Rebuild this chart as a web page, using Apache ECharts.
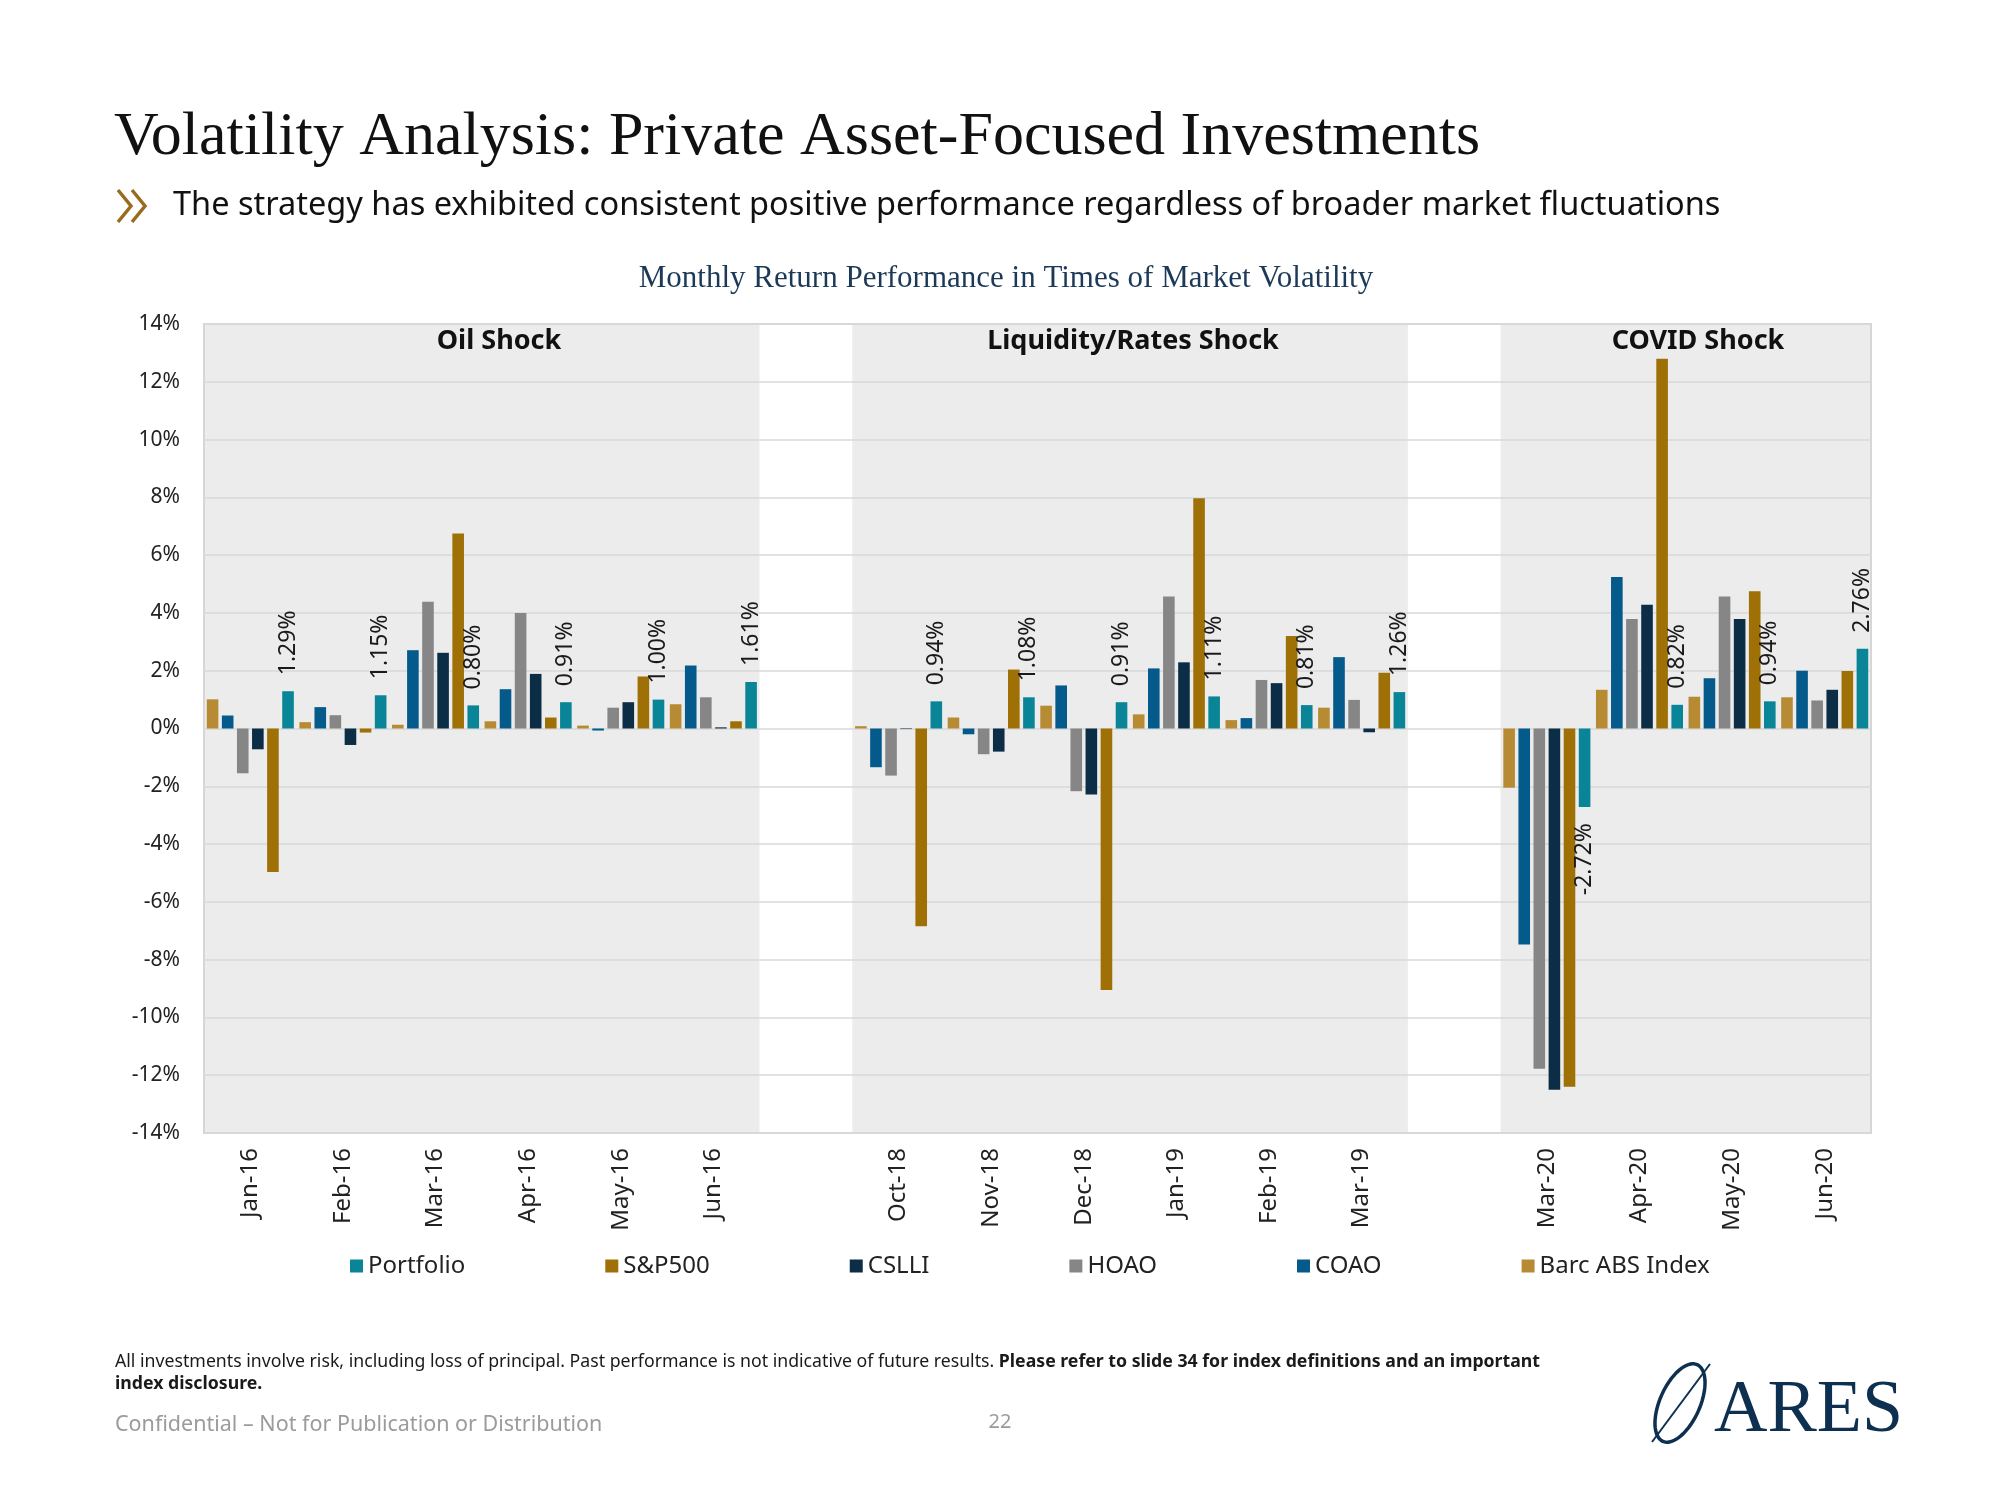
<!DOCTYPE html>
<html><head><meta charset="utf-8">
<script src="https://cdn.jsdelivr.net/npm/echarts@6/dist/echarts.min.js"></script>
<style>html,body{margin:0;padding:0;background:#fff;} #c{width:2000px;height:1500px;}</style>
</head><body><div id="c"></div>
<script>
// Categories (blank entries are the white gaps between shock periods)
const categories = ['Jan-16','Feb-16','Mar-16','Apr-16','May-16','Jun-16','',
  'Oct-18','Nov-18','Dec-18','Jan-19','Feb-19','Mar-19',' ',
  'Mar-20','Apr-20','May-20','Jun-20'];

// Monthly returns (%) — null where a gap category sits
const barcABS  = [1.01, 0.22, 0.13, 0.25, 0.10, 0.84, null, 0.08, 0.38, 0.79, 0.49, 0.29, 0.72, null, -2.05, 1.34, 1.10, 1.08];
const coao     = [0.45, 0.74, 2.71, 1.36, -0.07, 2.18, null, -1.34, -0.20, 1.49, 2.08, 0.36, 2.47, null, -7.48, 5.24, 1.74, 2.00];
const hoao     = [-1.55, 0.46, 4.39, 4.00, 0.72, 1.08, null, -1.63, -0.89, -2.17, 4.57, 1.68, 0.99, null, -11.78, 3.79, 4.57, 0.97];
const cslli    = [-0.72, -0.57, 2.62, 1.89, 0.91, 0.04, null, -0.02, -0.80, -2.28, 2.29, 1.57, -0.13, null, -12.5, 4.28, 3.79, 1.34];
const sp500    = [-4.97, -0.14, 6.75, 0.38, 1.80, 0.25, null, -6.84, 2.04, -9.05, 7.97, 3.20, 1.93, null, -12.4, 12.8, 4.75, 1.99];
const portfolio= [1.29, 1.15, 0.80, 0.91, 1.00, 1.61, null, 0.94, 1.08, 0.91, 1.11, 0.81, 1.26, null, -2.72, 0.82, 0.94, 2.76];

const seriesNames = ['Barc ABS Index','COAO','HOAO','CSLLI','S&P500','Portfolio'];
const legendOrder = ['Portfolio','S&P500','CSLLI','HOAO','COAO','Barc ABS Index'];
const colors = {'Barc ABS Index':'#B68B34','COAO':'#055A8C','HOAO':'#868686','CSLLI':'#0B2D45','S&P500':'#9E7006','Portfolio':'#0A8597'};
const yTicks = {min:-14, max:14, step:2};
const sections = [
  {name:'Oil Shock', x:499},
  {name:'Liquidity/Rates Shock', x:1133},
  {name:'COVID Shock', x:1698}
];

const SANS = '"Noto Sans", "Open Sans", sans-serif';
const SERIF = '"Liberation Serif", "DejaVu Serif", serif';

const values = [barcABS, coao, hoao, cslli, sp500, portfolio];
const series = seriesNames.map((name, i) => {
  const arr = values[i];
  const s = {
    name, type:'bar',
    barGap:'30%', barCategoryGap:'6%',
    itemStyle:{color:colors[name]},
    data: arr.map(v => v == null ? '-' : v),
    z: 3
  };
  if (name === 'Portfolio') {
    s.data = arr.map(v => v == null ? '-' :
      (v < 0 ? {value:v, label:{position:'bottom', align:'right'}} : v));
    s.label = {
      show:true, position:'top', rotate:90, align:'left', verticalAlign:'middle',
      distance:16, fontSize:23, fontFamily:SANS, color:'#1a1a1a',
      formatter: p => p.value.toFixed(2) + '%'
    };
  }
  return s;
});

const chart = echarts.init(document.getElementById('c'), null, {renderer:'canvas'});

// ellipse outline for the logo mark
function ellipsePts(cx, cy, rx, ry, rot, n) {
  const pts = [];
  for (let k = 0; k < n; k++) {
    const t = 2 * Math.PI * k / n;
    const x = rx * Math.cos(t), y = ry * Math.sin(t);
    pts.push([cx + x * Math.cos(rot) - y * Math.sin(rot), cy + x * Math.sin(rot) + y * Math.cos(rot)]);
  }
  return pts;
}

const graphics = [
  {type:'text', left:114, top:107, style:{text:'Volatility Analysis: Private Asset-Focused Investments', font:'62px ' + SERIF, fill:'#111'}},
  {type:'polyline', shape:{points:[[118,190],[131,206],[118,222]]}, style:{stroke:'#9A6B1F', lineWidth:3.5, fill:null}},
  {type:'polyline', shape:{points:[[132,190],[145,206],[132,222]]}, style:{stroke:'#9A6B1F', lineWidth:3.5, fill:null}},
  {type:'text', left:173, top:189, style:{text:'The strategy has exhibited consistent positive performance regardless of broader market fluctuations', font:'32.5px ' + SANS, fill:'#111'}},
  {type:'text', x:1006, y:279, style:{text:'Monthly Return Performance in Times of Market Volatility', font:'31px ' + SERIF, fill:'#1C3A57', align:'center', verticalAlign:'middle'}},
  {type:'text', left:115, top:1353, style:{
    text:'{n|All investments involve risk, including loss of principal. Past performance is not indicative of future results. }{b|Please refer to slide 34 for index definitions and an important}\n{b|index disclosure.}',
    rich:{n:{fontSize:17.7, fontFamily:SANS, fill:'#1a1a1a', lineHeight:22}, b:{fontSize:17.7, fontFamily:SANS, fontWeight:'bold', fill:'#1a1a1a', lineHeight:22}}
  }},
  {type:'text', x:115, y:1425, style:{text:'Confidential \u2013 Not for Publication or Distribution', font:'21.5px ' + SANS, fill:'#9B9B9B', verticalAlign:'middle'}},
  {type:'text', x:1000, y:1422, style:{text:'22', font:'20px ' + SANS, fill:'#9B9B9B', align:'center', verticalAlign:'middle'}},
  {type:'polygon', shape:{points:ellipsePts(1680, 1403, 20, 42, 0.42, 72)}, style:{stroke:'#0D3050', lineWidth:3.5, fill:null}},
  {type:'line', shape:{x1:1652, y1:1442, x2:1710, y2:1364}, style:{stroke:'#0D3050', lineWidth:2}},
  {type:'text', x:1714, y:1412, style:{text:'ARES', font:'74px ' + SERIF, fill:'#0D3050', verticalAlign:'middle'}}
];
sections.forEach(s => graphics.push({type:'text', x:s.x, y:341, z:10,
  style:{text:s.name, font:'bold 27px ' + SANS, fill:'#111', align:'center', verticalAlign:'middle'}}));

const option = {
  animation:false,
  backgroundColor:'#ffffff',
  color: seriesNames.map(n => colors[n]),
  grid:{left:204, right:129, top:324, bottom:367, show:true, borderColor:'#D6D6D6', borderWidth:2, backgroundColor:'transparent', z:1, containLabel:false},
  legend:{
    data:legendOrder, left:345, top:1249, itemGap:140, itemWidth:13, itemHeight:13, icon:'rect',
    textStyle:{fontSize:24, fontFamily:SANS, color:'#222'}
  },
  xAxis:{
    type:'category', data:categories, boundaryGap:true, z:0,
    axisLine:{show:true, onZero:false, lineStyle:{color:'#CFCFCF', width:2}},
    axisTick:{show:false},
    axisLabel:{interval:0, rotate:90, margin:15, fontSize:24, fontFamily:SANS, color:'#222'},
    splitLine:{show:false},
    splitArea:{show:true, interval:0, areaStyle:{color: categories.map(c => c.trim() ? '#ECECEC' : '#FFFFFF')}}
  },
  yAxis:{
    type:'value', min:yTicks.min, max:yTicks.max, interval:yTicks.step, z:1,
    axisLine:{show:false}, axisTick:{show:false},
    axisLabel:{formatter:'{value}%', fontSize:21, fontFamily:SANS, color:'#222', margin:24},
    splitLine:{show:true, lineStyle:{color:'#D9D9D9', width:1.5}}
  },
  series: series,
  graphic: graphics
};
chart.setOption(option);
</script></body></html>
